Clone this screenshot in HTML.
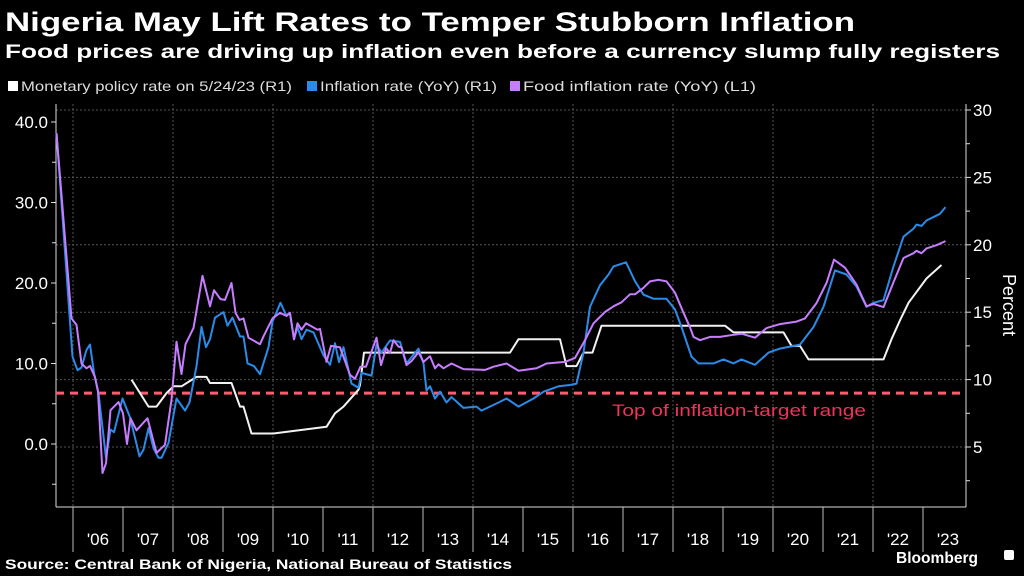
<!DOCTYPE html>
<html><head><meta charset="utf-8"><style>
html,body{margin:0;padding:0;background:#000;}
svg{display:block;font-family:"Liberation Sans",sans-serif;}
</style></head><body>
<svg id="chart" width="1024" height="576" viewBox="0 0 1024 576">
<rect width="1024" height="576" fill="#000"/>
<text x="5" y="31" fill="#fff" font-size="27" font-weight="bold" textLength="850" lengthAdjust="spacingAndGlyphs">Nigeria May Lift Rates to Temper Stubborn Inflation</text>
<text x="5" y="58" fill="#fff" font-size="19" font-weight="bold" textLength="995" lengthAdjust="spacingAndGlyphs">Food prices are driving up inflation even before a currency slump fully registers</text>
<g>
<g><rect x="8" y="81" width="10" height="10" fill="#fff"/><text x="21" y="91" fill="#ddd" font-size="14" textLength="271" lengthAdjust="spacingAndGlyphs">Monetary policy rate on 5/24/23 (R1)</text></g>
<g><rect x="307" y="81" width="10" height="10" fill="#2a8be8"/><text x="320" y="91" fill="#ddd" font-size="14" textLength="177" lengthAdjust="spacingAndGlyphs">Inflation rate (YoY) (R1)</text></g>
<g><rect x="510" y="81" width="10" height="10" fill="#c77dff"/><text x="523" y="91" fill="#ddd" font-size="14" textLength="233" lengthAdjust="spacingAndGlyphs">Food inflation rate (YoY) (L1)</text></g>
</g>
<g id="grid"></g>
<g id="axes"></g>
<g id="series"></g>
<text x="1003" y="305" fill="#fff" font-size="18" text-anchor="middle" transform="rotate(90 1003 305)">Percent</text>
<text x="5" y="569" fill="#fff" font-size="14" font-weight="bold" textLength="507" lengthAdjust="spacingAndGlyphs">Source: Central Bank of Nigeria, National Bureau of Statistics</text>
<text x="896" y="563" fill="#fff" font-size="16" font-weight="bold" textLength="82" lengthAdjust="spacingAndGlyphs">Bloomberg</text>
<rect x="1004" y="550" width="10" height="10" rx="2" fill="#fff"/>
</svg>
<script>
const yearTicks=["'06","'07","'08","'09","'10","'11","'12","'13","'14","'15","'16","'17","'18","'19","'20","'21","'22","'23"];
const leftTicks=[0,10,20,30,40];
const rightTicks=[5,10,15,20,25,30];
const targetLevel=9;
const foodDates=[2005.67,2005.97,2006.07,2006.17,2006.27,2006.34,2006.44,2006.50,2006.59,2006.66,2006.75,2006.91,2007.00,2007.08,2007.15,2007.27,2007.49,2007.67,2007.84,2007.97,2008.07,2008.17,2008.25,2008.41,2008.59,2008.74,2008.82,2008.95,2009.04,2009.17,2009.25,2009.33,2009.41,2009.51,2009.74,2009.82,2009.99,2010.14,2010.27,2010.34,2010.42,2010.49,2010.57,2010.66,2010.89,2010.94,2011.07,2011.16,2011.34,2011.54,2011.64,2011.75,2011.86,2012.07,2012.16,2012.26,2012.34,2012.41,2012.51,2012.57,2012.67,2012.77,2012.91,2013.01,2013.14,2013.24,2013.31,2013.41,2013.57,2013.81,2014.24,2014.41,2014.67,2014.91,2015.27,2015.47,2015.84,2016.04,2016.24,2016.41,2016.64,2016.81,2016.97,2017.14,2017.24,2017.41,2017.54,2017.71,2017.87,2018.04,2018.21,2018.34,2018.41,2018.54,2018.74,2018.94,2019.14,2019.37,2019.64,2019.87,2020.14,2020.47,2020.64,2020.87,2021.07,2021.22,2021.44,2021.67,2021.87,2022.01,2022.21,2022.41,2022.61,2022.81,2022.87,2022.97,2023.07,2023.27,2023.45];
const foodValues=[38.6,15.6,14.8,10,9.4,9.7,8.3,6.5,-3.6,-2.4,4.2,5.2,3.8,0,3.2,1.7,3.2,-1.1,-0.1,5.5,12.7,8.7,12.4,14.4,20.9,17.1,19.1,18,17.9,20,16.3,15.4,15.6,13.2,12.4,13.5,15.6,16.3,15.9,16.3,13,15,14.2,15,14.2,14.3,10.2,12.2,12,8.6,8.1,9.6,9.6,13.2,9.8,11.9,11.3,12.9,12.1,12,9.8,10.3,11.4,10.2,10.9,9.4,9.9,9.4,10,9.3,9.2,9.6,10,9.1,9.4,10,10.2,10.7,12.9,15,16.4,17.1,17.6,18.6,18.6,19.4,20.2,20.4,20.2,18.8,16.3,14.5,13.3,12.9,13.3,13.3,13.5,13.7,13.2,14.4,14.9,15.2,15.6,17.5,20,22.9,21.9,19.8,17.1,17.4,17,20.1,23.1,23.7,24,23.7,24.3,24.7,25.2];
const inflDates=[2005.67,2005.99,2006.09,2006.17,2006.27,2006.34,2006.42,2006.51,2006.66,2006.75,2006.82,2006.99,2007.14,2007.33,2007.41,2007.51,2007.61,2007.71,2007.77,2007.91,2008.07,2008.24,2008.33,2008.47,2008.57,2008.66,2008.74,2008.84,2009.01,2009.09,2009.19,2009.34,2009.41,2009.49,2009.62,2009.74,2009.91,2009.99,2010.15,2010.26,2010.34,2010.42,2010.49,2010.57,2010.67,2010.81,2011.01,2011.14,2011.24,2011.32,2011.41,2011.57,2011.71,2011.77,2011.97,2012.07,2012.17,2012.34,2012.54,2012.67,2012.91,2013.01,2013.07,2013.14,2013.24,2013.34,2013.47,2013.57,2013.81,2014.07,2014.17,2014.51,2014.67,2014.91,2015.21,2015.41,2015.71,2015.94,2016.07,2016.21,2016.34,2016.54,2016.71,2016.81,2017.06,2017.24,2017.41,2017.61,2017.87,2018.04,2018.17,2018.37,2018.51,2018.81,2019.01,2019.21,2019.37,2019.64,2019.91,2020.14,2020.54,2020.81,2021.01,2021.24,2021.47,2021.67,2021.87,2022.01,2022.21,2022.41,2022.61,2022.81,2022.87,2022.97,2023.07,2023.34,2023.45];
const inflValues=[28.3,11.7,10.7,10.9,12.2,12.6,10.5,9,4.2,6.3,6.1,8.6,7.2,4.3,4.8,6.4,4.9,4.2,4.2,5.3,8.6,7.7,8.3,11,13.9,12.4,13,14.6,15,14,14.6,13.2,13.2,11.2,11,10.4,12.4,14.3,15.7,14.8,14.9,13,13.9,13,13.7,13.5,11.8,11.1,12.7,11.3,12.4,9.7,9.4,10.5,10.3,12.6,12,12.9,12.8,11.2,12.3,11.2,9.2,9.5,8.6,9.1,8.3,8.7,7.9,8,7.7,8.3,8.6,8,8.6,9.1,9.5,9.6,9.7,12,15.4,17,17.8,18.4,18.7,17.3,16.3,16,16,15.2,13.9,11.7,11.2,11.2,11.5,11.2,11.5,11.1,12,12.3,12.6,13.9,15.4,18.1,17.8,16.9,15.4,15.7,15.9,18.4,20.6,21.2,21.5,21.4,21.8,22.3,22.8];
const mprDates=[2007.17,2007.51,2007.67,2007.87,2008.01,2008.17,2008.47,2008.67,2008.74,2009.17,2009.34,2009.41,2009.57,2010.01,2011.07,2011.24,2011.41,2011.71,2011.74,2011.82,2014.74,2014.91,2015.74,2015.87,2016.07,2016.21,2016.39,2016.57,2019.04,2019.21,2020.21,2020.37,2020.54,2020.71,2022.21,2022.37,2022.54,2022.71,2023.07,2023.37];
const mprValues=[10,8,8,9,9.5,9.5,10.2,10.2,9.75,9.75,8,8,6,6,6.5,7.5,8,9.25,9.6,12,12,13,13,11,11,12,12,14,14,13.5,13.5,12.5,12.5,11.5,11.5,13,14.4,15.7,17.5,18.5];

const NS='http://www.w3.org/2000/svg';
const X0=56,X1=966,YB=507;
function xS(t){return 73+(t-2006)*50;}
function yL(v){return 444-v*8.05;}
function yR(v){return 447-(v-5)*13.48;}
function mk(tag,attrs,parent){const e=document.createElementNS(NS,tag);for(const k in attrs)e.setAttribute(k,attrs[k]);parent.appendChild(e);return e;}
const grid=document.getElementById('grid'),axes=document.getElementById('axes'),series=document.getElementById('series');
rightTicks.forEach(v=>{
  const l=mk('line',{x1:X0,x2:X1,y1:yR(v),y2:yR(v),stroke:'#555','stroke-width':1,'stroke-dasharray':'2,2'},grid);
  
  
  const tk=mk('line',{x1:X1,x2:X1+5,y1:yR(v),y2:yR(v),stroke:'#ddd','stroke-width':1},axes);
  
  
  const t=mk('text',{x:X1+7,y:yR(v)+6,fill:'#fff','font-size':17},axes);
  t.textContent=v;
  
  
});
for(let v=2.5;v<30;v+=5){const m=mk('line',{x1:X1,x2:X1+4,y1:yR(v),y2:yR(v),stroke:'#ddd'},axes);}
for(let y=2006;y<=2022;y+=2){
  const l=mk('line',{x1:xS(y),x2:xS(y),y1:104,y2:YB,stroke:'#555','stroke-width':1,'stroke-dasharray':'2,2'},grid);
  
  
}
leftTicks.forEach(v=>{
  const tk=mk('line',{x1:X0-5,x2:X0,y1:yL(v),y2:yL(v),stroke:'#ddd'},axes);
  
  
  const t=mk('text',{x:X0-8,y:yL(v)+6,fill:'#fff','font-size':17,'text-anchor':'end'},axes);
  t.textContent=v.toFixed(1);
  
  
});
for(let v=-5;v<=35;v+=10){const m=mk('line',{x1:X0-4,x2:X0,y1:yL(v),y2:yL(v),stroke:'#ddd'},axes);}
const la=mk('line',{x1:X0,x2:X0,y1:104,y2:YB,stroke:'#ddd'},axes);
const ra=mk('line',{x1:X1,x2:X1,y1:104,y2:YB,stroke:'#ddd'},axes);
const ba=mk('line',{x1:X0,x2:X1,y1:YB,y2:YB,stroke:'#ddd'},axes);
yearTicks.forEach((lab,i)=>{
  const yr=2006+i;
  const tk=mk('line',{x1:xS(yr),x2:xS(yr),y1:YB,y2:552,stroke:'#bbb'},axes);
  
  
  const t=mk('text',{x:xS(yr+0.5),y:545,fill:'#fff','font-size':17,'text-anchor':'middle'},axes);
  t.textContent=lab;
  
  
});
const tl=mk('line',{x1:X0,x2:X1,y1:yR(targetLevel),y2:yR(targetLevel),stroke:'#ff5c74','stroke-width':3,'stroke-dasharray':'8,6'},series);


const tt=mk('text',{x:612,y:416,fill:'#f0335a','font-size':17,textLength:254,lengthAdjust:'spacingAndGlyphs'},series);
tt.textContent='Top of inflation-target range';


function line(d,v,ys,color,name){
  const pts=d.map((t,i)=>xS(t).toFixed(1)+','+ys(v[i]).toFixed(1)).join(' ');
  const p=mk('polyline',{points:pts,fill:'none',stroke:color,'stroke-width':2,'stroke-linejoin':'round'},series);
  
  
}
line(mprDates,mprValues,yR,'#f2f2f2','policy-rate-line');
line(inflDates,inflValues,yR,'#2a8be8','inflation-rate-line');
line(foodDates,foodValues,yL,'#c77dff','food-inflation-line');
</script>
</body></html>
